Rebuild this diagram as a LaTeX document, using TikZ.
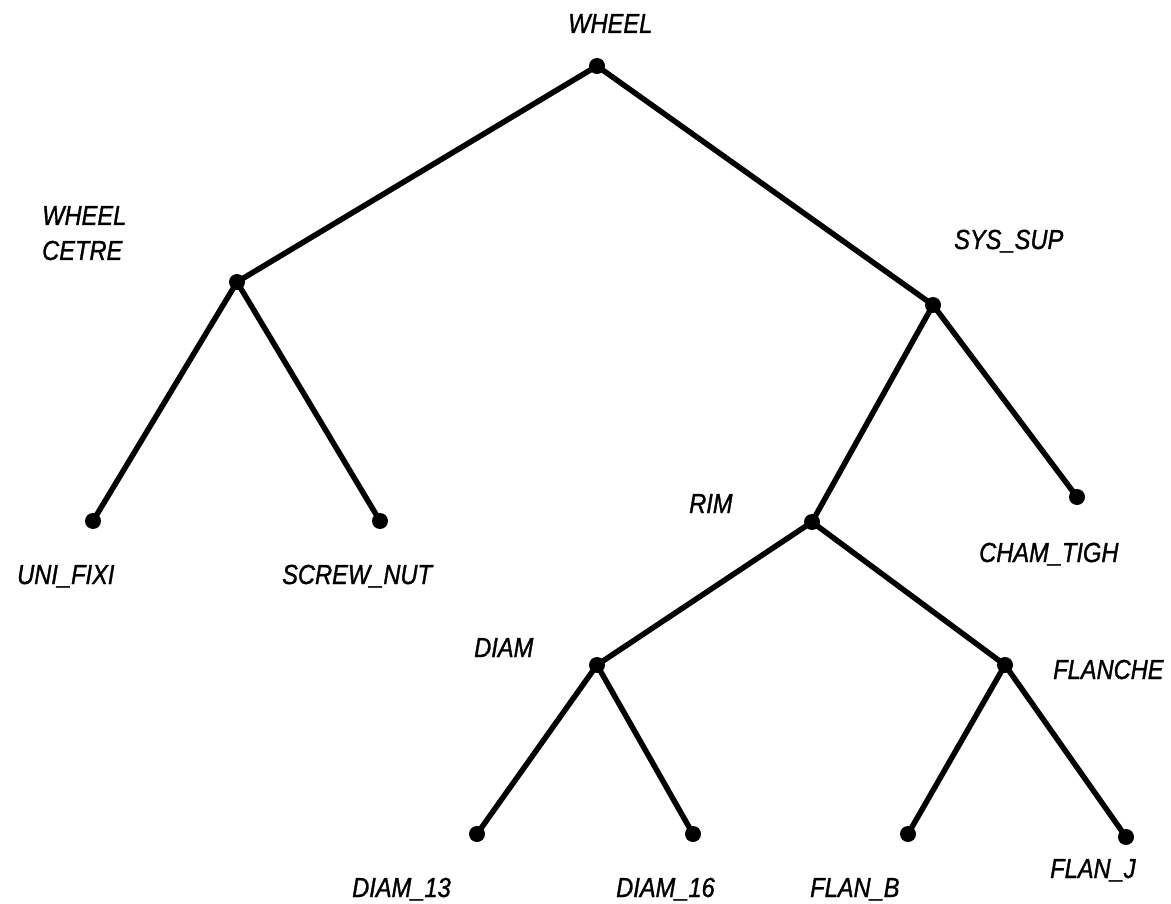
\documentclass[tikz,border=0pt]{standalone}
\usepackage{fontspec}
\setmainfont{Liberation Sans}[FakeStretch=0.86,FakeBold=1.2]
\begin{document}
\begin{tikzpicture}[x=1pt,y=-1pt,
  dot/.style={circle,fill=black,draw=none,minimum size=16pt,inner sep=0pt},
  edge/.style={line width=5.5pt,black},
  lbl/.style={anchor=base west,inner sep=0pt,font=\fontsize{27.5}{35}\selectfont\itshape}]
\useasboundingbox (0,0) rectangle (1171,904);
% dots
\node[dot] (wheel) at (597,66) {};
\node[dot] (cetre) at (237,282) {};
\node[dot] (sys) at (933,305) {};
\node[dot] (uni) at (93,521) {};
\node[dot] (screw) at (380,521) {};
\node[dot] (rim) at (812,522) {};
\node[dot] (cham) at (1077,497) {};
\node[dot] (diam) at (597,665) {};
\node[dot] (flanche) at (1005,665) {};
\node[dot] (d13) at (477,834) {};
\node[dot] (d16) at (693,834) {};
\node[dot] (flb) at (908,834) {};
\node[dot] (flj) at (1126,837) {};
% edges
\draw[edge] (wheel.center) -- (cetre.center);
\draw[edge] (wheel.center) -- (sys.center);
\draw[edge] (cetre.center) -- (uni.center);
\draw[edge] (cetre.center) -- (screw.center);
\draw[edge] (sys.center) -- (rim.center);
\draw[edge] (sys.center) -- (cham.center);
\draw[edge] (rim.center) -- (diam.center);
\draw[edge] (rim.center) -- (flanche.center);
\draw[edge] (diam.center) -- (d13.center);
\draw[edge] (diam.center) -- (d16.center);
\draw[edge] (flanche.center) -- (flb.center);
\draw[edge] (flanche.center) -- (flj.center);
% labels
\node[lbl] (lwheel) at (568,33) {WHEEL};
\node[lbl,align=left] (lcetre) at (42,260) {WHEEL\\CETRE};
\node[lbl] (lsys) at (954,249) {SYS\_SUP};
\node[lbl] (luni) at (17,584) {UNI\_FIXI};
\node[lbl] (lscrew) at (282,584) {SCREW\_NUT};
\node[lbl] (lrim) at (689,513) {RIM};
\node[lbl] (lcham) at (979,562) {CHAM\_TIGH};
\node[lbl] (ldiam) at (474,657) {DIAM};
\node[lbl] (lflanche) at (1053,679) {FLANCHE};
\node[lbl] (ld13) at (352,897) {DIAM\_13};
\node[lbl] (ld16) at (616,897) {DIAM\_16};
\node[lbl] (lflb) at (810,897) {FLAN\_B};
\node[lbl] (lflj) at (1050,878) {FLAN\_J};
\end{tikzpicture}
\end{document}
